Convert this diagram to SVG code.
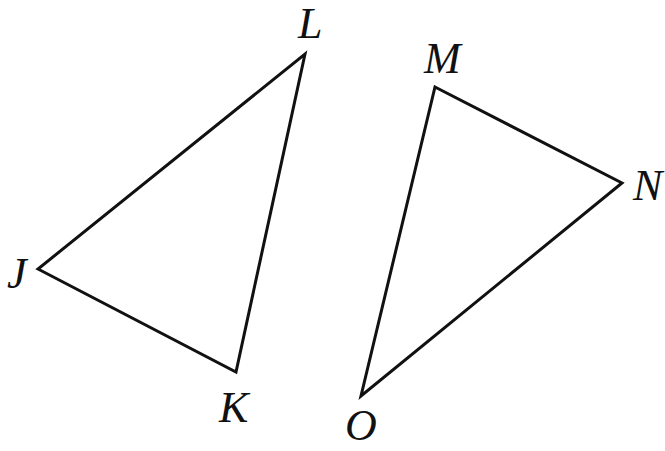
<svg xmlns="http://www.w3.org/2000/svg" width="665" height="451" viewBox="0 0 665 451">
<style>
.edge{fill:none;stroke:#111;stroke-width:3;stroke-linejoin:miter}
.lbl{font-family:"Liberation Serif",serif;font-style:italic;font-size:44px;fill:#111}
</style>
<rect width="665" height="451" fill="#fff"/>
<g id="connectors">
<polygon class="edge" points="38,269 236,372 305,54"/>
<polygon class="edge" points="435,87 622,183 361,396"/>
</g>
<g id="J"><text class="lbl" x="7" y="288">J</text></g>
<g id="K"><text class="lbl" x="219" y="422">K</text></g>
<g id="L"><text class="lbl" x="298" y="38">L</text></g>
<g id="M"><text class="lbl" x="424" y="73">M</text></g>
<g id="N"><text class="lbl" x="633" y="200">N</text></g>
<g id="O"><text class="lbl" x="345" y="440">O</text></g>
</svg>
